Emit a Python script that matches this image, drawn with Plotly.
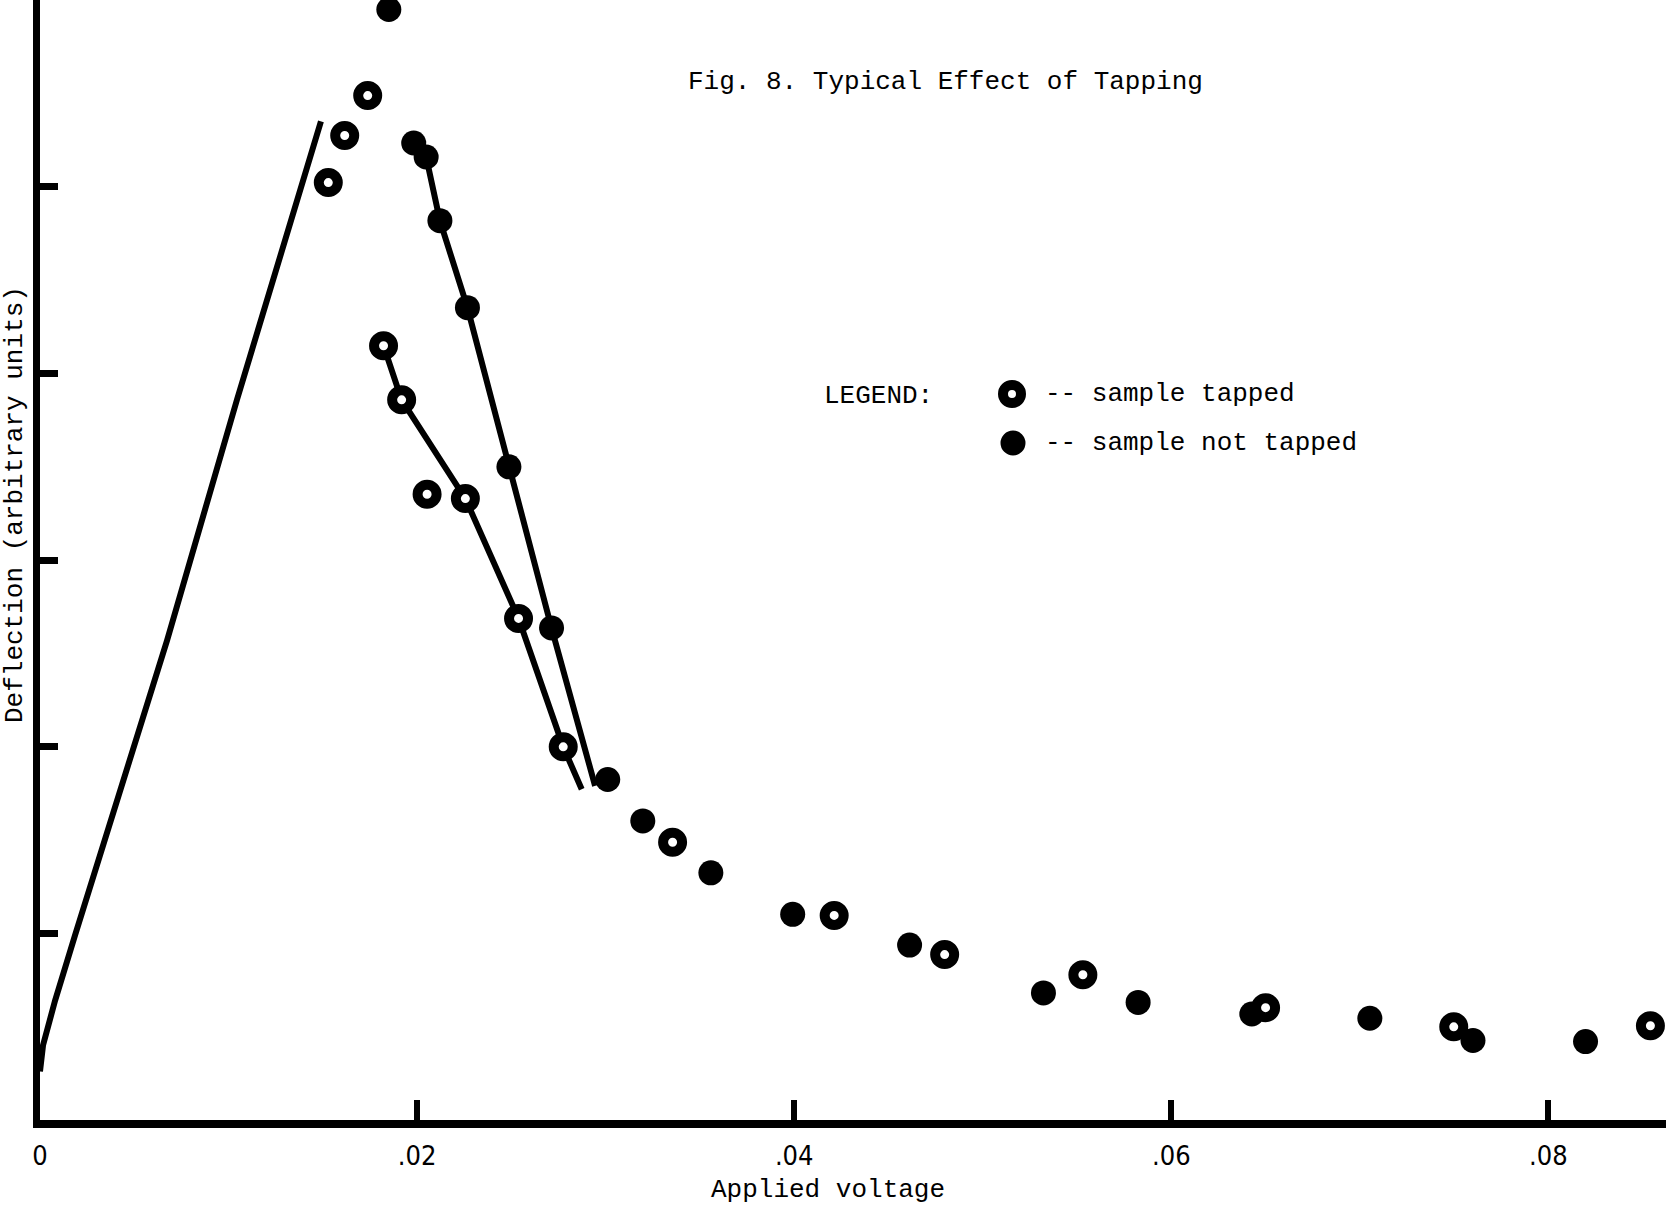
import plotly.graph_objects as go

# ---------------- data ----------------
# sample not tapped (filled circles)
not_tapped_x = [0.01850, 0.01982, 0.02048, 0.02121, 0.02267, 0.02487, 0.02713, 0.03011,
                0.03197, 0.03558, 0.03992, 0.04612, 0.05322, 0.05824, 0.06427, 0.07053,
                0.07600, 0.08197]
not_tapped_y = [5.949, 5.234, 5.159, 4.818, 4.352, 3.499, 2.636, 1.824,
                1.602, 1.324, 1.102, 0.937, 0.681, 0.630, 0.568, 0.545,
                0.426, 0.420]

# sample tapped (open circles)
tapped_x = [0.01529, 0.01616, 0.01738, 0.01822, 0.01918, 0.02053, 0.02256, 0.02538,
            0.02775, 0.03355, 0.04212, 0.04798, 0.05531, 0.06500, 0.07498, 0.08541]
tapped_y = [5.022, 5.274, 5.488, 4.148, 3.858, 3.352, 3.329, 2.687,
            1.999, 1.488, 1.096, 0.886, 0.778, 0.602, 0.499, 0.505]

# hand-drawn curves
rise_x = [0.0, 0.00016, 0.00080, 0.00186, 0.00674, 0.01045, 0.01490]
rise_y = [0.26, 0.40, 0.64, 0.99, 2.57, 3.86, 5.35]

fall_not_tapped_x = [0.02048, 0.02121, 0.02267, 0.02487, 0.02713, 0.02944]
fall_not_tapped_y = [5.159, 4.818, 4.352, 3.499, 2.636, 1.790]

fall_tapped_x = [0.01822, 0.01918, 0.02256, 0.02538, 0.02775, 0.02873]
fall_tapped_y = [4.148, 3.858, 3.329, 2.687, 1.999, 1.772]

x_tickvals = [0, 0.02, 0.04, 0.06, 0.08]
x_ticktext = ["0", ".02", ".04", ".06", ".08"]
y_tickvals = [1, 2, 3, 4, 5]

title_text = "Fig. 8. Typical Effect of Tapping"
x_title = "Applied voltage"
y_title = "Deflection (arbitrary units)"
legend_label = "LEGEND:"
name_tapped = "sample tapped"
name_not_tapped = "sample not tapped"

# ---------------- figure ----------------
FONT = "Liberation Mono, DejaVu Sans Mono, monospace"
TICK_FONT = "Liberation Sans Narrow, DejaVu Sans Condensed, Liberation Sans, Arial, sans-serif"
W, H = 1666, 1207
ML, MB = 40, 87
PW, PH = W - ML, H - MB
X_MAX = PW / 377.1 * 0.02
Y_MAX = 6.0

fig = go.Figure()

for lx, ly in [(rise_x, rise_y), (fall_not_tapped_x, fall_not_tapped_y), (fall_tapped_x, fall_tapped_y)]:
    fig.add_trace(go.Scatter(x=lx, y=ly, mode="lines", line=dict(color="black", width=6),
                             showlegend=False, hoverinfo="skip", cliponaxis=False))

fig.add_trace(go.Scatter(x=not_tapped_x, y=not_tapped_y, mode="markers", name=name_not_tapped,
                         marker=dict(symbol="circle", size=25, color="black", line=dict(width=0)),
                         showlegend=False, cliponaxis=False))
fig.add_trace(go.Scatter(x=tapped_x, y=tapped_y, mode="markers", name=name_tapped,
                         marker=dict(symbol="circle", size=19, color="white",
                                     line=dict(width=10, color="black")),
                         showlegend=False, cliponaxis=False))


def px_x(p):
    return (p - ML) / PW


def px_y(p):
    return (PH - p) / PH


annotations = [
    dict(text=title_text, x=px_x(945), y=px_y(82), xanchor="center", yanchor="middle"),
    dict(text=legend_label, x=px_x(822), y=px_y(396), xanchor="left", yanchor="middle"),
    dict(text="-- " + name_tapped, x=px_x(1043), y=px_y(394), xanchor="left", yanchor="middle"),
    dict(text="-- " + name_not_tapped, x=px_x(1043), y=px_y(443), xanchor="left", yanchor="middle"),
    dict(text=x_title, x=px_x(828), y=px_y(1190), xanchor="center", yanchor="middle"),
    dict(text=y_title, x=px_x(15), y=px_y(505), xanchor="center", yanchor="middle", textangle=-90),
]
for a in annotations:
    a.update(xref="paper", yref="paper", showarrow=False,
             font=dict(family=FONT, size=26, color="black"))

# legend keys (drawn as pixel-sized circles next to the legend text)
shapes = [
    dict(type="circle", xref="paper", yref="paper", xsizemode="pixel", ysizemode="pixel",
         xanchor=px_x(1012), yanchor=px_y(394), x0=-9, x1=9, y0=-9, y1=9,
         fillcolor="white", line=dict(color="black", width=10)),
    dict(type="circle", xref="paper", yref="paper", xsizemode="pixel", ysizemode="pixel",
         xanchor=px_x(1013), yanchor=px_y(443), x0=-12.5, x1=12.5, y0=-12.5, y1=12.5,
         fillcolor="black", line=dict(color="black", width=0)),
]

fig.update_layout(
    width=W, height=H,
    margin=dict(l=ML, r=0, t=0, b=MB, pad=0),
    paper_bgcolor="white", plot_bgcolor="white",
    showlegend=False,
    annotations=annotations,
    shapes=shapes,
    xaxis=dict(range=[0, X_MAX], showgrid=False, zeroline=False,
               showline=True, linecolor="black", linewidth=8,
               ticks="inside", ticklen=20, tickwidth=6, tickcolor="black",
               tickvals=x_tickvals, ticktext=x_ticktext,
               ticklabelstandoff=5,
               tickfont=dict(family=TICK_FONT, size=27, color="black")),
    yaxis=dict(range=[0, Y_MAX], showgrid=False, zeroline=False,
               showline=True, linecolor="black", linewidth=7,
               ticks="inside", ticklen=18, tickwidth=7, tickcolor="black",
               tickvals=y_tickvals, showticklabels=False),
)

fig.write_html("out.html")
